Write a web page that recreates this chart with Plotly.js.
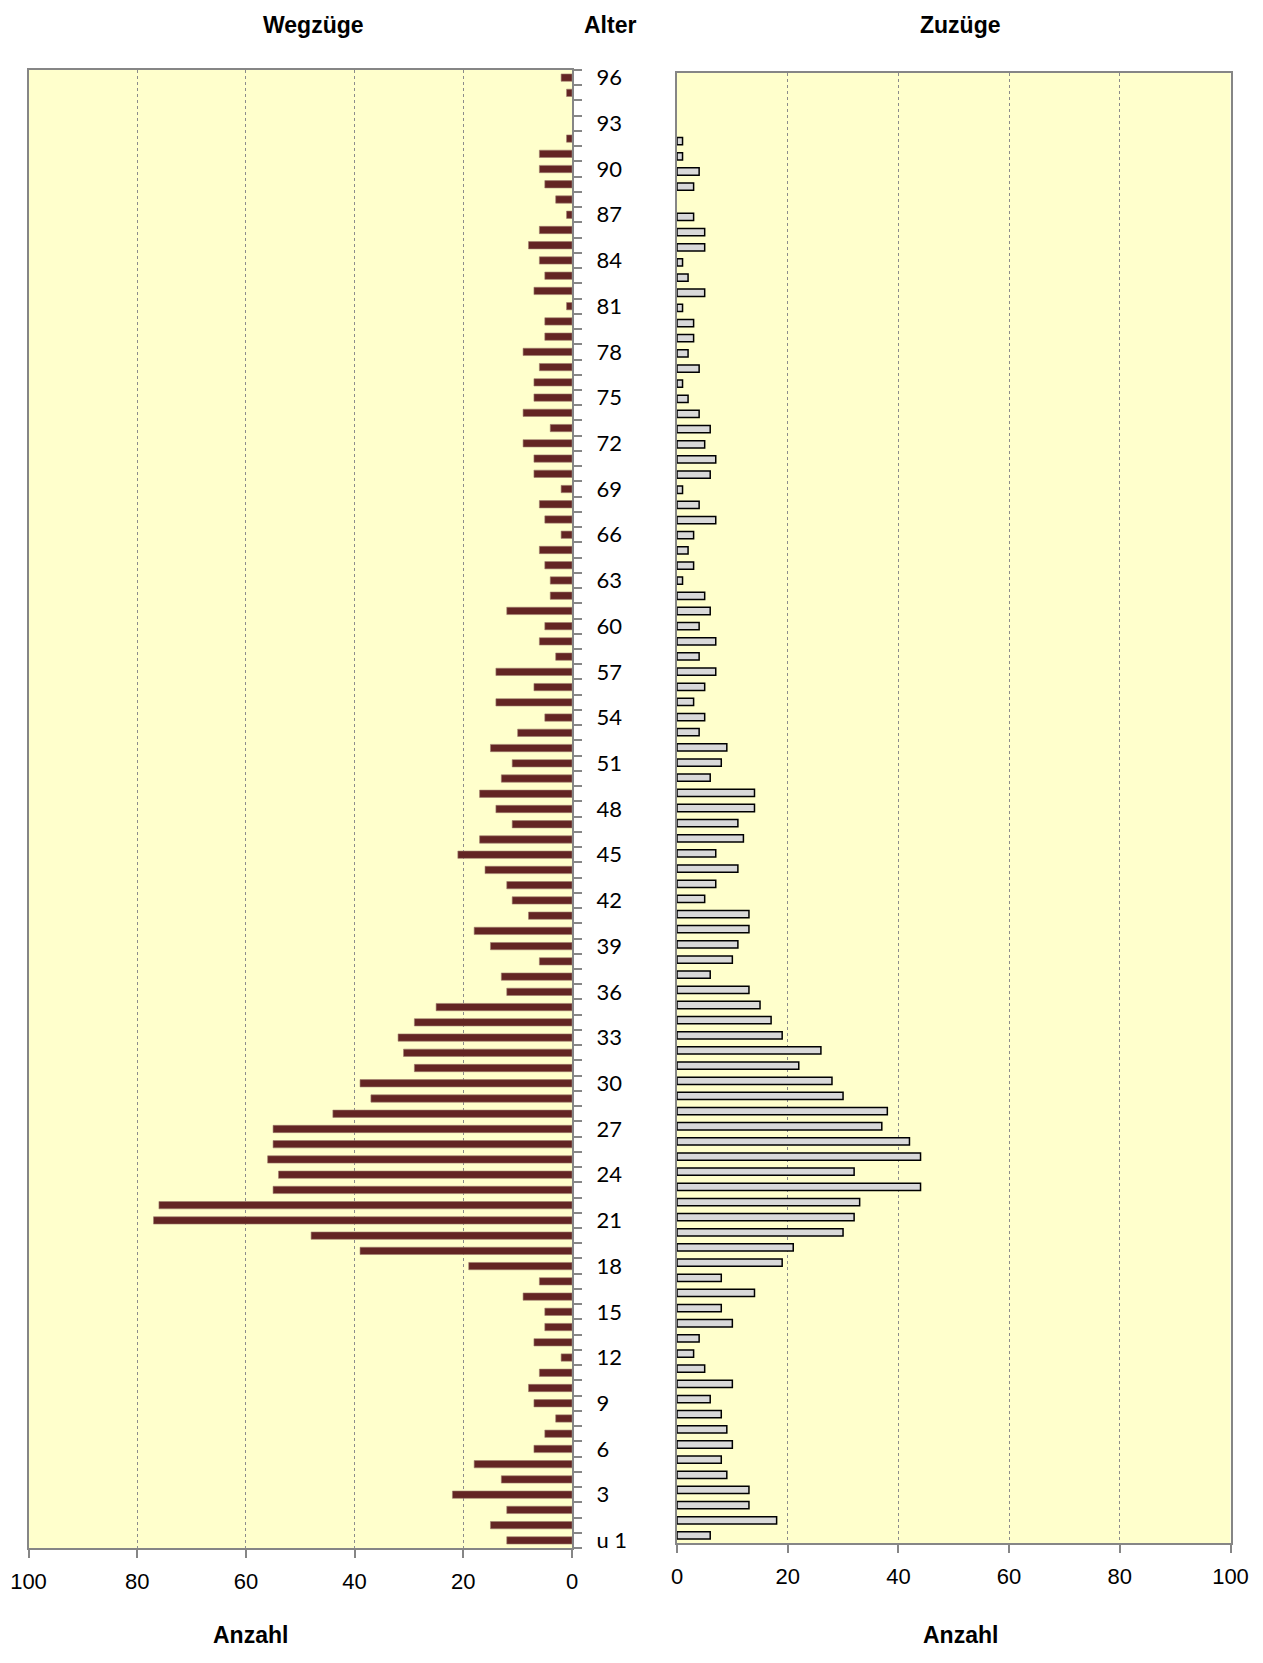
<!DOCTYPE html>
<html>
<head>
<meta charset="utf-8">
<script src="https://cdn.plot.ly/plotly-3.0.1.min.js"></script>
<style>
  html, body { margin: 0; padding: 0; background: #ffffff; }
  #chart { width: 1263px; height: 1663px; }
</style>
</head>
<body>
<div id="chart"></div>
<script>
// Age categories (bottom to top)
const ages = ['u 1','1','2','3','4','5','6','7','8','9','10','11','12','13','14','15','16','17','18','19',
  '20','21','22','23','24','25','26','27','28','29','30','31','32','33','34','35','36','37','38','39',
  '40','41','42','43','44','45','46','47','48','49','50','51','52','53','54','55','56','57','58','59',
  '60','61','62','63','64','65','66','67','68','69','70','71','72','73','74','75','76','77','78','79',
  '80','81','82','83','84','85','86','87','88','89','90','91','92','93','94','95','96'];

// Wegzüge (moving away), per age
const wegzuege = [12,15,12,22,13,18,7,5,3,7,8,6,2,7,5,5,9,6,19,39,
  48,77,76,55,54,56,55,55,44,37,39,29,31,32,29,25,12,13,6,15,
  18,8,11,12,16,21,17,11,14,17,13,11,15,10,5,14,7,14,3,6,
  5,12,4,4,5,6,2,5,6,2,7,7,9,4,9,7,7,6,9,5,
  5,1,7,5,6,8,6,1,3,5,6,6,1,0,0,1,2];

// Zuzüge (moving in), per age
const zuzuege = [6,18,13,13,9,8,10,9,8,6,10,5,3,4,10,8,14,8,19,21,
  30,32,33,44,32,44,42,37,38,30,28,22,26,19,17,15,13,6,10,11,
  13,13,5,7,11,7,12,11,14,14,6,8,9,4,5,3,5,7,4,7,
  4,6,5,1,3,2,3,7,4,1,6,7,5,6,4,2,1,4,2,3,
  3,1,5,2,1,5,5,3,0,3,4,1,1,0,0,0,0];

// Axis tick values / labels
const xTicks = [0, 20, 40, 60, 80, 100];
const ageTickText = ages.map((a, i) => (i % 3 === 0 ? a : ''));

const W = 1263, H = 1663;
const px = v => v / W;
const py = v => 1 - v / H;

const axisGray = '#868686';
const txtFont = 'Liberation Sans, Arial, sans-serif';

const traces = [
  {
    type: 'bar', orientation: 'h',
    x: wegzuege, y: ages,
    xaxis: 'x', yaxis: 'y',
    marker: { color: '#632523', line: { color: '#a07e6e', width: wegzuege.map(v => v > 0 ? 0.6 : 0) } },
    hoverinfo: 'x+y', showlegend: false
  },
  {
    type: 'bar', orientation: 'h',
    x: zuzuege, y: ages,
    xaxis: 'x2', yaxis: 'y2',
    marker: { color: '#d9d9d9', line: { color: '#000000', width: zuzuege.map(v => v > 0 ? 1.5 : 0) } },
    hoverinfo: 'x+y', showlegend: false
  }
];

const xCommon = {
  tickmode: 'array', tickvals: xTicks,
  ticks: 'outside', ticklen: 8, tickwidth: 2, tickcolor: axisGray,
  ticklabelstandoff: 5,
  showline: true, mirror: true, linecolor: axisGray, linewidth: 2,
  showgrid: true, gridcolor: '#8c8c8c', griddash: 'dot', gridwidth: 1,
  zeroline: false,
  tickfont: { family: txtFont, size: 22, color: '#000' },
  fixedrange: true
};

const layout = {
  width: W, height: H, autosize: false,
  margin: { l: 0, r: 0, t: 0, b: 0, pad: 0 },
  paper_bgcolor: '#ffffff',
  plot_bgcolor: '#ffffcc',
  bargap: 0.52,
  xaxis: Object.assign({}, xCommon, {
    domain: [px(28.5), px(572)], anchor: 'y', range: [100, 0]
  }),
  yaxis: {
    domain: [py(1548), py(70)], anchor: 'x',
    type: 'category', categoryorder: 'array', categoryarray: ages,
    range: [-0.5, ages.length - 0.5],
    side: 'right',
    tickmode: 'array', tickvals: ages, ticktext: ageTickText,
    ticks: 'outside', tickson: 'boundaries', ticklen: 8, tickwidth: 2, tickcolor: axisGray,
    ticklabelstandoff: 18,
    showline: true, mirror: true, linecolor: axisGray, linewidth: 2,
    showgrid: false, zeroline: false,
    tickfont: { family: 'Lato, Carlito, sans-serif', size: 22, color: '#000' },
    fixedrange: true
  },
  xaxis2: Object.assign({}, xCommon, {
    domain: [px(677), px(1230.5)], anchor: 'y2', range: [0, 100]
  }),
  yaxis2: {
    domain: [py(1543), py(73)], anchor: 'x2',
    type: 'category', categoryorder: 'array', categoryarray: ages,
    range: [-0.5, ages.length - 0.5],
    showticklabels: false, ticks: '',
    showline: true, mirror: true, linecolor: axisGray, linewidth: 2,
    showgrid: false, zeroline: false,
    fixedrange: true
  },
  annotations: [
    { text: 'Wegzüge', x: px(313), y: py(25), xref: 'paper', yref: 'paper', showarrow: false,
      xanchor: 'center', yanchor: 'middle', font: { family: txtFont, size: 23, color: '#000', weight: 'bold' } },
    { text: 'Alter', x: px(610), y: py(25), xref: 'paper', yref: 'paper', showarrow: false,
      xanchor: 'center', yanchor: 'middle', font: { family: txtFont, size: 23, color: '#000', weight: 'bold' } },
    { text: 'Zuzüge', x: px(960), y: py(25), xref: 'paper', yref: 'paper', showarrow: false,
      xanchor: 'center', yanchor: 'middle', font: { family: txtFont, size: 23, color: '#000', weight: 'bold' } },
    { text: 'Anzahl', x: px(250), y: py(1635), xref: 'paper', yref: 'paper', showarrow: false,
      xanchor: 'center', yanchor: 'middle', font: { family: txtFont, size: 23, color: '#000', weight: 'bold' } },
    { text: 'Anzahl', x: px(960), y: py(1635), xref: 'paper', yref: 'paper', showarrow: false,
      xanchor: 'center', yanchor: 'middle', font: { family: txtFont, size: 23, color: '#000', weight: 'bold' } }
  ]
};

Plotly.newPlot('chart', traces, layout, { displayModeBar: false, staticPlot: true });
</script>
</body>
</html>
